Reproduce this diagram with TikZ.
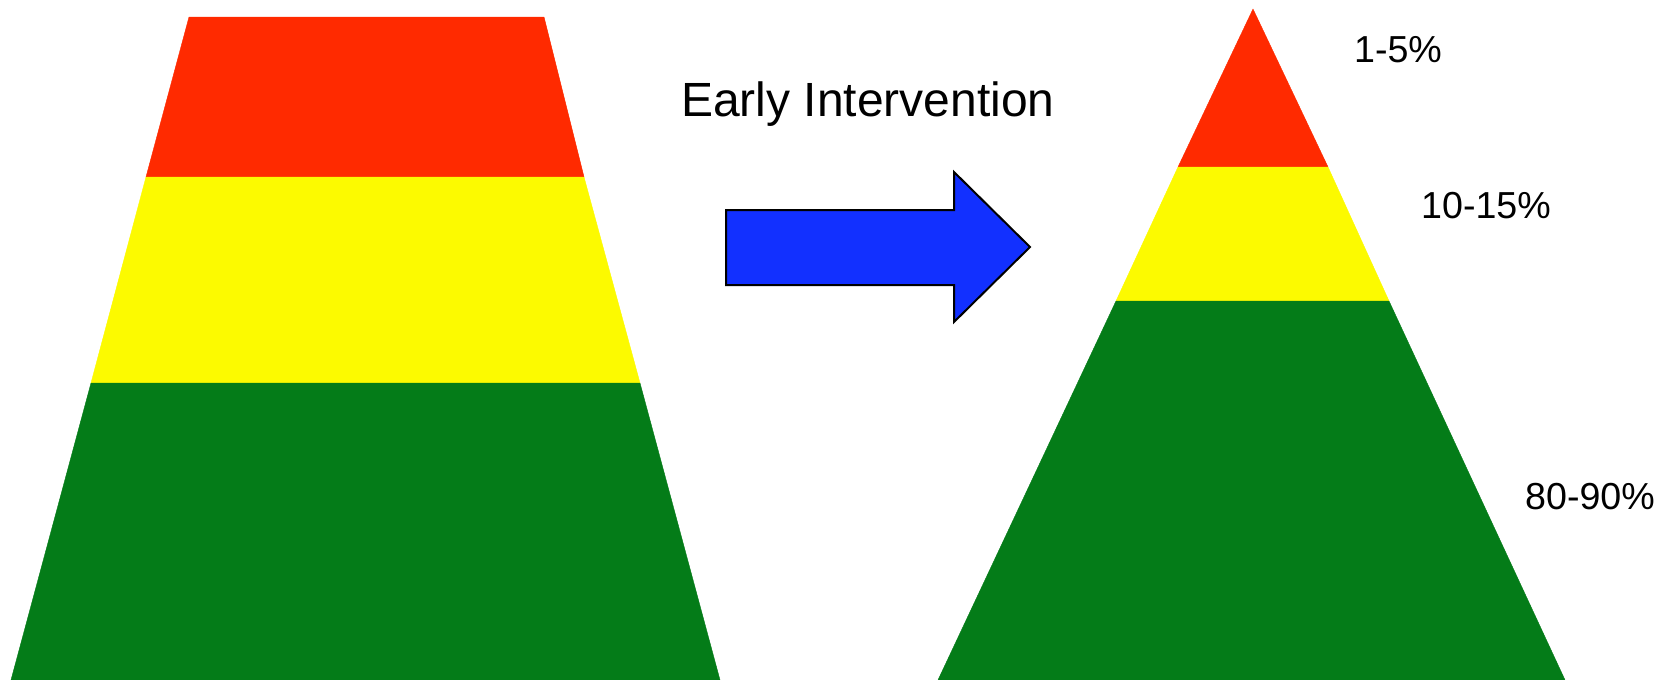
\documentclass[tikz,border=0pt]{standalone}
\usepackage{fontspec}
\setmainfont{Liberation Sans}
\usepackage{tikz}
\usetikzlibrary{positioning}

\definecolor{tierred}{RGB}{255,42,0}
\definecolor{tieryellow}{RGB}{252,250,0}
\definecolor{tiergreen}{RGB}{4,124,24}
\definecolor{arrowblue}{RGB}{18,48,255}

\begin{document}
\begin{tikzpicture}[
    x=0.5pt, y=-0.5pt,
    band/.style={line width=0.2pt},
    pct/.style={font=\fontsize{18.8}{22}\selectfont, inner sep=0pt},
    title/.style={font=\fontsize{24}{29}\selectfont, inner sep=0pt},
    bigarrow/.style={draw=black, line width=1pt, fill=arrowblue, line join=miter}
]
\useasboundingbox (0,0) rectangle (1672,680);
% before: wide base
\filldraw[band, draw=tierred, fill=tierred] (189,17) -- (544,17) -- (584,177) -- (146,177) -- cycle;
\filldraw[band, draw=tieryellow, fill=tieryellow] (146,177) -- (584,177) -- (640,383) -- (91,383) -- cycle;
\filldraw[band, draw=tiergreen, fill=tiergreen] (91,383) -- (640,383) -- (720,680) -- (11,680) -- cycle;
% shift
\draw[bigarrow] (726,210) -- (954,210) -- (954,172) -- (1030,247)
    -- (954,322) -- (954,285) -- (726,285) -- cycle;
\node[title] (early) at (868,104) {Early Intervention};
% after: pyramid
\filldraw[band, draw=tierred, fill=tierred] (1253,9) -- (1328,167) -- (1178,167) -- cycle;
\filldraw[band, draw=tieryellow, fill=tieryellow] (1178,167) -- (1328,167) -- (1389,301) -- (1116,301) -- cycle;
\filldraw[band, draw=tiergreen, fill=tiergreen] (1116,301) -- (1389,301) -- (1565,680) -- (938,680) -- cycle;
\node[pct] (top) at (1398,50) {1-5\%};
\node[pct] (mid) at (1486,206) {10-15\%};
\node[pct] (base) at (1590,497) {80-90\%};
\end{tikzpicture}
\end{document}
